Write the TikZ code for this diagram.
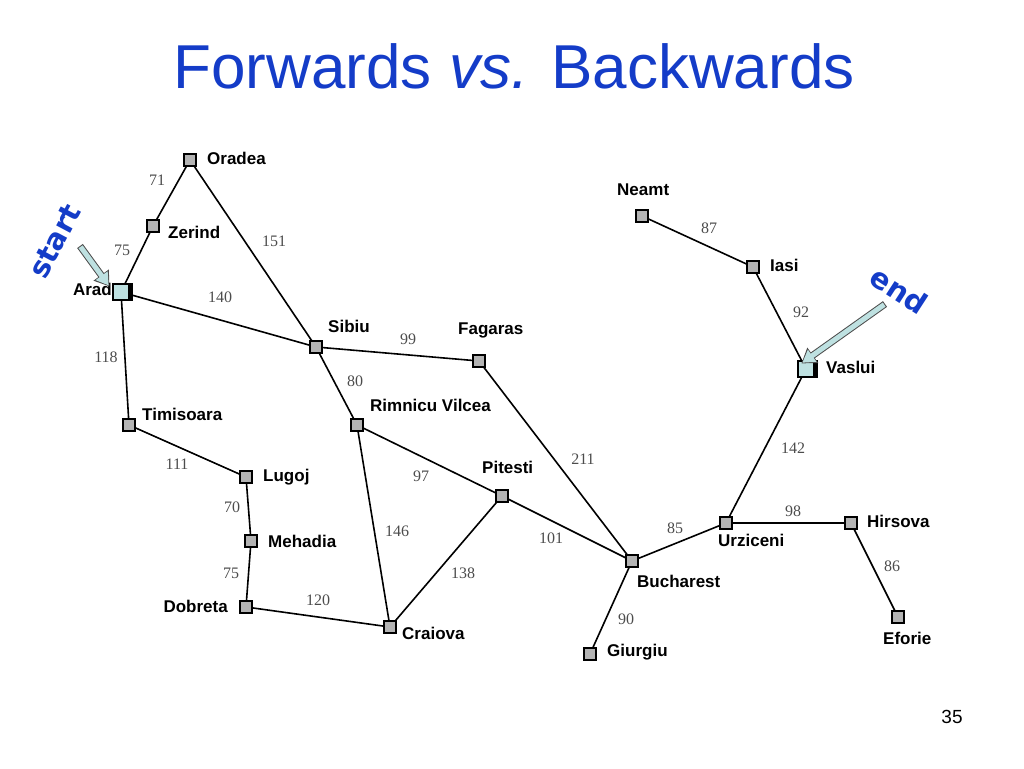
\documentclass[tikz,border=0pt]{standalone}
\usepackage{fontspec}
\setmainfont{Liberation Serif}
\setsansfont{Liberation Sans}
\newfontfamily\comic{DejaVu Sans}
\usetikzlibrary{arrows.meta}
\definecolor{titleblue}{RGB}{20,60,200}
\definecolor{citygray}{RGB}{180,180,180}
\definecolor{startc}{RGB}{190,225,225}
\tikzset{
 city/.style={draw=black,line width=2.4pt,fill=citygray,minimum size=12pt,inner sep=0pt},
 startcity/.style={city,fill=startc,line width=1.2pt,minimum size=16pt},
 lab/.style={font=\sffamily\bfseries\fontsize{17}{19}\selectfont,inner sep=0pt},
 dist/.style={font=\fontsize{16}{18}\selectfont,text=black!70,inner sep=0pt},
 road/.style={line width=1.6pt},
 bigarrow/.style={-{Triangle[length=14pt,width=18pt]},line width=7pt,draw=black!70,
   postaction={draw=startc,line width=5pt,-{Triangle[length=12pt,width=14pt]},shorten >=1.2pt,shorten <=1pt}},
}
\begin{document}
\begin{tikzpicture}[x=1pt,y=-1pt]
\useasboundingbox (0,0) rectangle (1024,768);
\node[text=titleblue,font=\sffamily\fontsize{62}{68}\selectfont] (title) at (514,66) {Forwards \textit{vs.} Backwards};
\node[font=\sffamily\fontsize{19}{21}\selectfont] (pg) at (952,717) {35};
% roads drawn first
\coordinate (Oradea) at (190,160);
\coordinate (Zerind) at (153,226);
\coordinate (Arad) at (121,292);
\coordinate (Timisoara) at (129,425);
\coordinate (Lugoj) at (246,477);
\coordinate (Mehadia) at (251,541);
\coordinate (Dobreta) at (246,607);
\coordinate (Craiova) at (390,627);
\coordinate (Sibiu) at (316,347);
\coordinate (Rimnicu) at (357,425);
\coordinate (Fagaras) at (479,361);
\coordinate (Pitesti) at (502,496);
\coordinate (Bucharest) at (632,561);
\coordinate (Giurgiu) at (590,654);
\coordinate (Urziceni) at (726,523);
\coordinate (Hirsova) at (851,523);
\coordinate (Eforie) at (898,617);
\coordinate (Vaslui) at (806,369);
\coordinate (Iasi) at (753,267);
\coordinate (Neamt) at (642,216);
\draw[road] (Oradea)--(Zerind) (Zerind)--(Arad) (Oradea)--(Sibiu) (Arad)--(Sibiu)
 (Arad)--(Timisoara) (Timisoara)--(Lugoj) (Lugoj)--(Mehadia) (Mehadia)--(Dobreta)
 (Dobreta)--(Craiova) (Sibiu)--(Fagaras) (Sibiu)--(Rimnicu) (Rimnicu)--(Craiova)
 (Rimnicu)--(Pitesti) (Craiova)--(Pitesti) (Pitesti)--(Bucharest) (Fagaras)--(Bucharest)
 (Bucharest)--(Giurgiu) (Bucharest)--(Urziceni) (Urziceni)--(Hirsova) (Hirsova)--(Eforie)
 (Urziceni)--(Vaslui) (Vaslui)--(Iasi) (Iasi)--(Neamt);
% cities
\foreach \c in {Oradea,Zerind,Timisoara,Lugoj,Mehadia,Dobreta,Craiova,Sibiu,Rimnicu,Fagaras,Pitesti,Bucharest,Giurgiu,Urziceni,Hirsova,Eforie,Iasi,Neamt}
  \node[city] (n\c) at (\c) {};
\node[startcity] (nArad) at (Arad) {};
\node[startcity] (nVaslui) at (Vaslui) {};
\fill (nArad.north east) rectangle ([xshift=3pt]nArad.south east);
\fill (nVaslui.north east) rectangle ([xshift=3pt]nVaslui.south east);
% labels
\node[lab,anchor=west] (lOradea) at (207,158) {Oradea};
\node[lab,anchor=west] (lZerind) at (168,232) {Zerind};
\node[lab,anchor=east] (lArad) at (112,289) {Arad};
\node[lab,anchor=west] (lSibiu) at (328,326) {Sibiu};
\node[lab,anchor=west] (lFagaras) at (458,330) {Fagaras};
\node[lab,anchor=west] (lRim) at (370,405) {Rimnicu Vilcea};
\node[lab,anchor=west] (lTim) at (142,414) {Timisoara};
\node[lab,anchor=west] (lLugoj) at (263,477) {Lugoj};
\node[lab,anchor=west] (lMeh) at (268,541) {Mehadia};
\node[lab,anchor=east] (lDob) at (228,606) {Dobreta};
\node[lab,anchor=west] (lCra) at (402,633) {Craiova};
\node[lab,anchor=west] (lPit) at (482,467) {Pitesti};
\node[lab,anchor=west] (lBuc) at (637,581) {Bucharest};
\node[lab,anchor=west] (lGiu) at (607,652) {Giurgiu};
\node[lab,anchor=west] (lUrz) at (718,540) {Urziceni};
\node[lab,anchor=west] (lHir) at (867,521) {Hirsova};
\node[lab,anchor=west] (lEfo) at (883,638) {Eforie};
\node[lab,anchor=west] (lVas) at (826,367) {Vaslui};
\node[lab,anchor=west] (lIasi) at (770,265) {Iasi};
\node[lab,anchor=west] (lNeamt) at (617,190) {Neamt};
% distances
\foreach \t/\x/\y in {71/157/180,75/122/250,151/274/241,140/220/297,118/106/357,99/408/339,80/355/381,111/177/464,70/232/507,75/231/573,120/318/600,146/397/531,97/421/476,138/463/573,211/583/459,101/551/538,85/675/528,90/626/619,98/793/511,86/892/566,142/793/448,92/801/312,87/709/228}
 \node[dist] at (\x,\y) {\t};
% start / end
\node[text=titleblue,font=\comic\bfseries\fontsize{29}{31}\selectfont,rotate=62] (start) at (55,241) {start};
\node[text=titleblue,font=\comic\bfseries\fontsize{29}{31}\selectfont,rotate=-33] (end) at (899,290) {end};
\coordinate (sa) at (80,246);
\coordinate (ea) at (885,304);
\draw[bigarrow] (sa) -- ([shift={(-3pt,-3pt)}]nArad.north west);
\draw[bigarrow] (ea) -- ([shift={(4pt,-3pt)}]nVaslui.north west);
\end{tikzpicture}
\end{document}
